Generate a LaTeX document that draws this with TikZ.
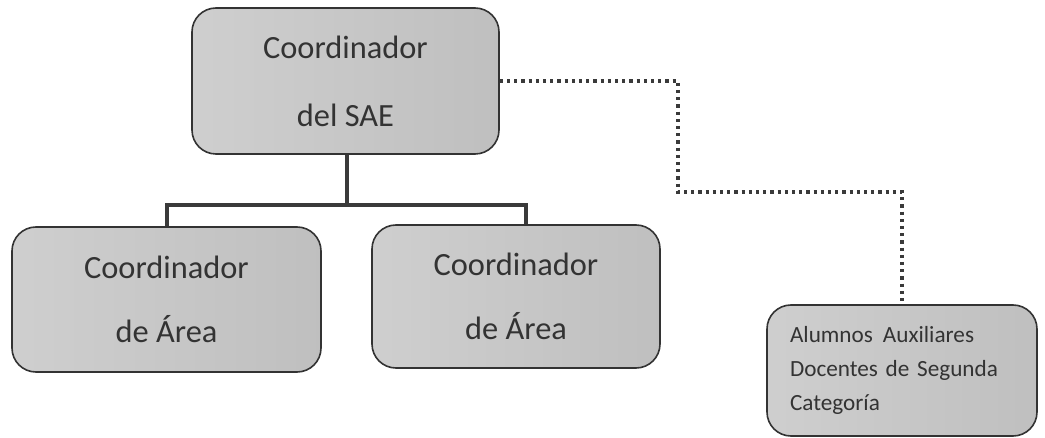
\documentclass[tikz,border=0pt]{standalone}
\usepackage{fontspec}
\setmainfont{Carlito}
\usetikzlibrary{positioning}
\definecolor{inkgray}{HTML}{333333}
\definecolor{linegray}{HTML}{3A3A3A}
\begin{document}
\begin{tikzpicture}[x=0.5pt,y=-0.5pt]
	\useasboundingbox (0,0) rectangle (1045,438);
	\begin{scope}[every node/.style={draw=inkgray, line width=0.8pt, rounded corners=12pt,
			left color=black!19, right color=black!25, text=inkgray, align=center, inner sep=0pt}]
		\node[minimum width=153.5pt, minimum height=73pt, font=\fontsize{16.2}{19}\selectfont] (sae) at (345.5,81) {Coordinador\\[15pt]del SAE};
		\node[minimum width=154.5pt, minimum height=72.5pt, font=\fontsize{16.2}{19}\selectfont] (area1) at (166.5,299.5) {Coordinador\\[13pt]de Área};
		\node[minimum width=144pt, minimum height=71.5pt, font=\fontsize{16.2}{19}\selectfont] (area2) at (516,296.5) {Coordinador\\[13pt]de Área};
		\node[minimum width=135pt, minimum height=65.5pt, text width=112pt, align=left, font=\fontsize{11.6}{17}\selectfont] (aux) at (902,370.5) {Alumnos\hspace{5pt}Auxiliares\\Docentes de Segunda\\Categoría};
	\end{scope}
	\coordinate (split) at (347,205);
	\coordinate (bend) at (678,192);
	\begin{scope}[every path/.style={draw=linegray, line width=2pt}]
		\path (sae.south -| split) -- (split);
		\path (split) -| (area1.north);
		\path (split) -| ([xshift=5pt]area2.north);
	\end{scope}
	\path[draw=linegray, line width=1.6pt, dash pattern=on 1.6pt off 2pt] (sae.east) -| (bend) -| (aux.north);
\end{tikzpicture}
\end{document}
